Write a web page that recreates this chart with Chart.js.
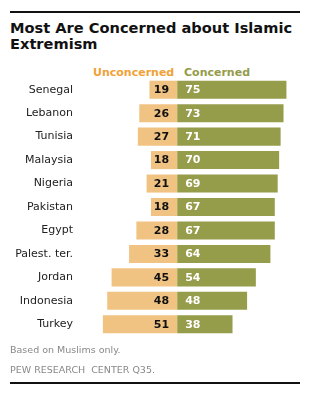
<!DOCTYPE html>
<html>
<head>
<meta charset="utf-8">
<script src="https://cdn.jsdelivr.net/npm/chart.js@4"></script>
<style>
  html, body { margin: 0; padding: 0; background: #fff; }
  #wrap { position: relative; width: 321px; height: 393px; overflow: hidden; font-family: "DejaVu Sans", Verdana, sans-serif; }
  #chart { position: absolute; left: 0; top: 0; }
  .rule { position: absolute; left: 10px; width: 290px; height: 2px; background: #111; }
  #title { position: absolute; left: 10px; top: 20px; font-size: 14.6px; line-height: 16px; font-weight: bold; color: #111; }
  .key { position: absolute; top: 66px; font-size: 11px; font-weight: bold; }
  .note { position: absolute; left: 10px; font-size: 9.5px; color: #888; white-space: pre; }
</style>
</head>
<body>
<div id="wrap">
  <div class="rule" style="top:11px"></div>
  <div id="title">Most Are Concerned about Islamic<br>Extremism</div>
  <div class="key" style="left:93px;color:#F0A238">Unconcerned</div>
  <div class="key" style="left:184px;color:#959C4A">Concerned</div>
  <canvas id="chart" width="321" height="393"></canvas>
  <div class="note" style="top:344px">Based on Muslims only.</div>
  <div class="note" style="top:364px">PEW RESEARCH  CENTER Q35.</div>
  <div class="rule" style="top:382px"></div>
</div>
<script>
var countries = ["Senegal", "Lebanon", "Tunisia", "Malaysia", "Nigeria", "Pakistan", "Egypt", "Palest. ter.", "Jordan", "Indonesia", "Turkey"];
var unconcerned = [19, 26, 27, 18, 21, 18, 28, 33, 45, 48, 51];
var concerned = [75, 73, 71, 70, 69, 67, 67, 64, 54, 48, 38];

// bar values written inside each bar, next to the zero line
var valueLabels = {
    id: 'valueLabels',
    afterDatasetsDraw: function(chart) {
        var ctx = chart.ctx;
        var zero = chart.scales.x.getPixelForValue(0);
        ctx.save();
        ctx.font = 'bold 11px "DejaVu Sans", Verdana, sans-serif';
        ctx.textBaseline = 'middle';
        chart.getDatasetMeta(0).data.forEach(function(bar, i) {
            ctx.fillStyle = '#111';
            ctx.textAlign = 'right';
            ctx.fillText(unconcerned[i], zero - 8, bar.y + 0.5);
        });
        chart.getDatasetMeta(1).data.forEach(function(bar, i) {
            ctx.fillStyle = '#fff';
            ctx.textAlign = 'left';
            ctx.fillText(concerned[i], zero + 8, bar.y + 0.5);
        });
        ctx.restore();
    }
};

new Chart(document.getElementById('chart'), {
    type: 'bar',
    data: {
        labels: countries,
        datasets: [{
            label: 'Unconcerned',
            data: unconcerned.map(function(v) { return -v; }),
            backgroundColor: '#F0C383',
            categoryPercentage: 1,
            barPercentage: 0.77
        }, {
            label: 'Concerned',
            data: concerned,
            backgroundColor: '#959C4A',
            categoryPercentage: 1,
            barPercentage: 0.77
        }]
    },
    options: {
        indexAxis: 'y',
        responsive: false,
        animation: false,
        events: [],
        layout: { padding: { top: 78, bottom: 57, left: 0, right: 20 } },
        plugins: { legend: { display: false }, tooltip: { enabled: false } },
        scales: {
            x: {
                stacked: true,
                display: false,
                min: -66,
                max: 85
            },
            y: {
                stacked: true,
                grid: { display: false, drawTicks: false },
                border: { display: false },
                afterFit: function(scale) { scale.width = 81; },
                ticks: {
                    padding: 8,
                    color: '#222',
                    font: { family: '"DejaVu Sans", Verdana, sans-serif', size: 11 }
                }
            }
        }
    },
    plugins: [valueLabels]
});
</script>
</body>
</html>
